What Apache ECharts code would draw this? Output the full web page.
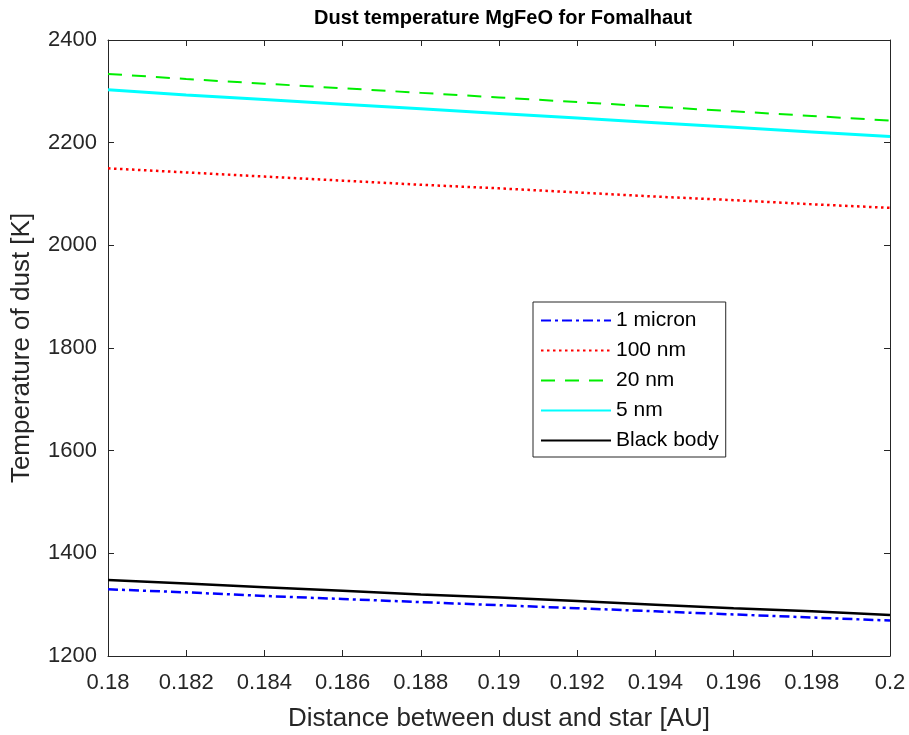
<!DOCTYPE html>
<html>
<head>
<meta charset="utf-8">
<script src="https://cdn.jsdelivr.net/npm/echarts@6/dist/echarts.min.js"></script>
<style>
html,body{margin:0;padding:0;background:#fff;}
#c{width:909px;height:735px;}
</style>
</head>
<body>
<div id="c"></div>
<script>
const distance = [0.18, 0.182, 0.184, 0.186, 0.188, 0.19, 0.192, 0.194, 0.196, 0.198, 0.2];
const micron1 = [1330, 1324, 1317, 1311, 1305, 1299, 1293, 1287, 1281, 1275, 1269];
const nm100   = [2150, 2142, 2134, 2126, 2118, 2111, 2103, 2095, 2088, 2080, 2073];
const nm20    = [2334, 2324, 2315, 2306, 2297, 2288, 2279, 2270, 2261, 2252, 2243];
const nm5     = [2303, 2293, 2284, 2275, 2266, 2257, 2248, 2239, 2230, 2221, 2212];
const blackBody = [1348, 1341, 1334, 1327, 1320, 1314, 1307, 1300, 1293, 1287, 1280];
const seriesNames = ['1 micron', '100 nm', '20 nm', '5 nm', 'Black body'];
const yTicks = [1200, 1400, 1600, 1800, 2000, 2200, 2400];

const pair = arr => distance.map((d, i) => [d, arr[i]]);
const axisColor = '#262626';
const font = 'Liberation Sans, Arial, Helvetica, sans-serif';

const chart = echarts.init(document.getElementById('c'), null, {renderer: 'canvas'});

const baseAxisLine = {show: true, lineStyle: {color: axisColor, width: 1}};
const tick = {show: true, inside: true, length: 6, lineStyle: {color: axisColor, width: 1}};

chart.setOption({
  animation: false,
  backgroundColor: '#fff',
  title: {
    text: 'Dust temperature MgFeO for Fomalhaut',
    left: 498, top: 3, textAlign: 'center',
    textStyle: {fontFamily: 'Liberation Sans Narrow, Arial Narrow, Liberation Sans, sans-serif', fontSize: 20, fontWeight: 'bold', color: '#000'}
  },
  grid: {left: 108, right: 19, top: 40, bottom: 79, containLabel: false, outerBoundsMode: 'none'},
  legend: {
    orient: 'vertical',
    left: 533, top: 302,
    padding: [8, 7, 6, 7],
    itemWidth: 70, itemHeight: 14, itemGap: 9,
    backgroundColor: '#fff',
    borderColor: axisColor, borderWidth: 1,
    data: seriesNames,
    itemStyle: {opacity: 0},
    textStyle: {fontFamily: font, fontSize: 21, lineHeight: 21, color: '#000'}
  },
  xAxis: [{
    type: 'value', min: 0.18, max: 0.2, interval: 0.002,
    name: 'Distance between dust and star [AU]',
    nameLocation: 'middle', nameGap: 50,
    nameTextStyle: {fontFamily: font, fontSize: 26, color: axisColor},
    axisLine: baseAxisLine, axisTick: tick, splitLine: {show: false},
    axisLabel: {fontFamily: font, fontSize: 22, color: axisColor, margin: 16,
      formatter: v => String(+v.toFixed(3))}
  }, {
    type: 'value', position: 'top', min: 0.18, max: 0.2, interval: 0.002,
    axisLine: baseAxisLine, axisTick: tick, splitLine: {show: false},
    axisLabel: {show: false}
  }],
  yAxis: [{
    type: 'value', min: yTicks[0], max: yTicks[yTicks.length - 1], interval: 200,
    name: 'Temperature of dust [K]',
    nameLocation: 'middle', nameGap: 73, nameRotate: 90,
    nameTextStyle: {fontFamily: font, fontSize: 26, color: axisColor},
    axisLine: baseAxisLine, axisTick: tick, splitLine: {show: false},
    axisLabel: {fontFamily: font, fontSize: 22, color: axisColor, margin: 11,
      formatter: v => String(v)}
  }, {
    type: 'value', position: 'right', min: yTicks[0], max: yTicks[yTicks.length - 1], interval: 200,
    axisLine: baseAxisLine, axisTick: tick, splitLine: {show: false},
    axisLabel: {show: false}
  }],
  series: [
    {name: seriesNames[0], type: 'line', data: pair(micron1), symbol: 'none', z: 3,
     lineStyle: {color: '#0000ff', width: 2.5, type: [10, 4, 3, 4]}, itemStyle: {color: '#0000ff'}},
    {name: seriesNames[1], type: 'line', data: pair(nm100), symbol: 'none', z: 3,
     lineStyle: {color: '#ff0000', width: 2.5, type: [2.5, 3.5]}, itemStyle: {color: '#ff0000'}},
    {name: seriesNames[2], type: 'line', data: pair(nm20), symbol: 'none', z: 3,
     lineStyle: {color: '#00ee00', width: 2, type: [14, 10]}, itemStyle: {color: '#00ee00'}},
    {name: seriesNames[3], type: 'line', data: pair(nm5), symbol: 'none', z: 3,
     lineStyle: {color: '#00ffff', width: 3, type: 'solid'}, itemStyle: {color: '#00ffff'}},
    {name: seriesNames[4], type: 'line', data: pair(blackBody), symbol: 'none', z: 3,
     lineStyle: {color: '#000000', width: 2.5, type: 'solid'}, itemStyle: {color: '#000000'}}
  ]
});
</script>
</body>
</html>
